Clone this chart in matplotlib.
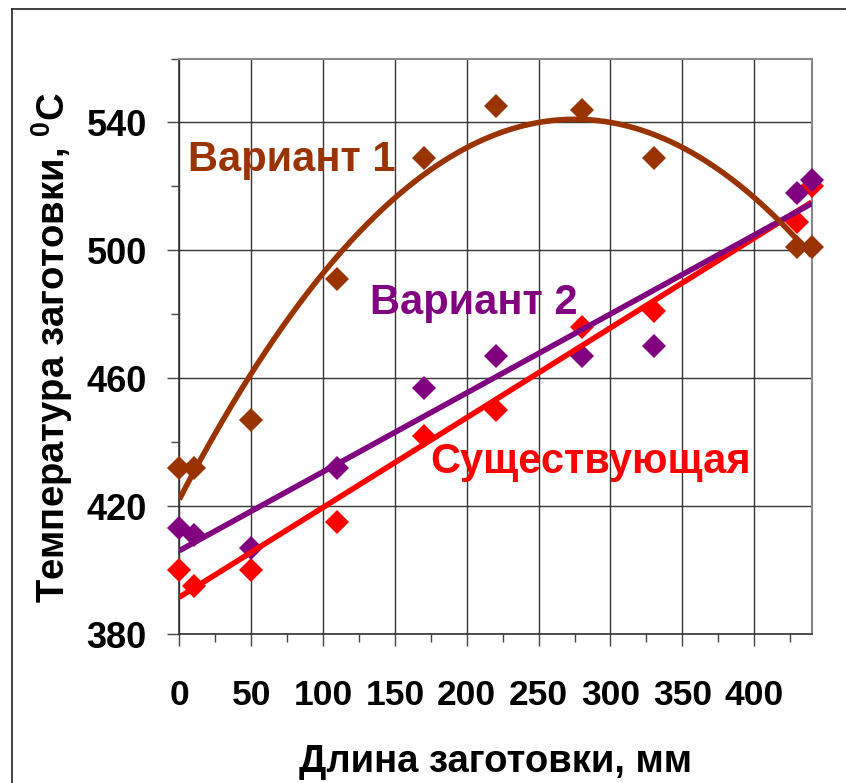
import numpy as np
import matplotlib
matplotlib.use('Agg')
import matplotlib.pyplot as plt
from matplotlib.ticker import FixedLocator
from matplotlib.lines import Line2D

# ---- data ----
x_mm = [0, 10, 50, 110, 170, 220, 280, 330, 430, 440]
t_var1 = [432, 432, 447, 491, 529, 545, 544, 529, 501, 501]
t_var2 = [413, 411, 407, 432, 457, 467, 467, 470, 518, 522]
t_exist = [400, 395, 400, 415, 442, 450, 476, 481, 509, 520]

series_names = ['Вариант 1', 'Вариант 2', 'Существующая']
x_major = [0, 50, 100, 150, 200, 250, 300, 350, 400]
x_minor = [25, 75, 125, 175, 225, 275, 325, 375, 425]
y_major = [380, 420, 460, 500, 540]
y_minor = [400, 440, 480, 520, 560]
x_label = 'Длина заготовки, мм'
y_label = 'Температура заготовки, $^{0}$C'

# ---- style ----
plt.rcParams['font.family'] = ['Liberation Sans', 'DejaVu Sans']
plt.rcParams['font.weight'] = 'bold'
plt.rcParams['mathtext.fontset'] = 'custom'
plt.rcParams['mathtext.rm'] = 'Liberation Sans:bold'
plt.rcParams['mathtext.bf'] = 'Liberation Sans:bold'
plt.rcParams['mathtext.it'] = 'Liberation Sans:bold'

c_var1 = '#993300'
c_var2 = '#800080'
c_exist = '#FF0000'

W, H = 846, 783
fig = plt.figure(figsize=(W / 100, H / 100), dpi=100)
L, R, T, B = 179.3, 811.7, 58.5, 634.0
ax = fig.add_axes([L / W, 1 - B / H, (R - L) / W, (B - T) / H])

ax.set_xlim(0, 440)
ax.set_ylim(380, 560)

# markers
ms = 12
ax.plot(x_mm, t_exist, 'D', color=c_exist, ms=ms, mew=0, zorder=3.0, clip_on=False)
ax.plot(x_mm, t_var2, 'D', color=c_var2, ms=ms, mew=0, zorder=3.1, clip_on=False)
ax.plot(x_mm, t_var1, 'D', color=c_var1, ms=ms, mew=0, zorder=3.2, clip_on=False)

# trend lines (fitted to the series)
xs = np.linspace(0, 440, 300)
p_exist = np.polyfit(x_mm, t_exist, 1)
p_var2 = np.polyfit(x_mm, t_var2, 1)
p_var1 = np.polyfit(x_mm, t_var1, 2)
lw = 4.0
ax.plot(xs, np.polyval(p_exist, xs), color=c_exist, lw=lw, zorder=4.0,
        solid_capstyle='butt')
ax.plot(xs, np.polyval(p_var2, xs), color=c_var2, lw=lw, zorder=4.1,
        solid_capstyle='butt')
ax.plot(xs, np.polyval(p_var1, xs), color=c_var1, lw=lw, zorder=4.2,
        solid_capstyle='butt')

# series labels
ax.text(6.25, 524.9, series_names[0], color=c_var1, fontsize=30,
        fontweight='bold', ha='left', va='baseline', zorder=5)
ax.text(132.4, 480.1, series_names[1], color=c_var2, fontsize=30,
        fontweight='bold', ha='left', va='baseline', zorder=5)
ax.text(174.6, 430.3, series_names[2], color=c_exist, fontsize=30,
        fontweight='bold', ha='left', va='baseline', zorder=5)

# ticks & grid
ax.xaxis.set_major_locator(FixedLocator(x_major))
ax.xaxis.set_minor_locator(FixedLocator(x_minor))
ax.yaxis.set_major_locator(FixedLocator(y_major))
ax.yaxis.set_minor_locator(FixedLocator(y_minor))
ax.set_xticklabels([str(v) for v in x_major])
ax.set_yticklabels([str(v) for v in y_major])

ax.grid(axis='both', which='major', color='#333333', lw=1.0, zorder=1)
ax.set_axisbelow(True)

ax.tick_params(axis='both', which='major', length=8.6, width=1.0,
               color='#444444', direction='out')
ax.tick_params(axis='both', which='minor', length=5.8, width=1.0,
               color='#444444', direction='out')
ax.tick_params(axis='y', which='major', labelsize=26, pad=14.8)
ax.tick_params(axis='x', which='major', labelsize=25.5, pad=24)
for lab in ax.get_xticklabels() + ax.get_yticklabels():
    lab.set_fontweight('bold')

for side in ('left', 'bottom'):
    ax.spines[side].set_color('#333333')
    ax.spines[side].set_linewidth(1.2)
for side in ('top', 'right'):
    ax.spines[side].set_color('#888888')
    ax.spines[side].set_linewidth(1.5)

# axis titles
ax.set_xlabel(x_label, fontsize=27.5, fontweight='bold', va='baseline')
ax.xaxis.set_label_coords(0.5, (B - 772) / (B - T))
ax.set_ylabel(y_label, fontsize=27.5, fontweight='bold', va='baseline')
ax.yaxis.set_label_coords((65 - L) / (R - L), (B - 347.5) / (B - T))

# outer frame (left and top edges visible)
fx, fy = 12.3 / W, 1 - 9.3 / H
fig.add_artist(Line2D([fx, fx], [0, fy], transform=fig.transFigure,
                      color='#222222', lw=1.2))
fig.add_artist(Line2D([fx, 1], [fy, fy], transform=fig.transFigure,
                      color='#222222', lw=1.2))

fig.savefig('out.png', dpi=100)
